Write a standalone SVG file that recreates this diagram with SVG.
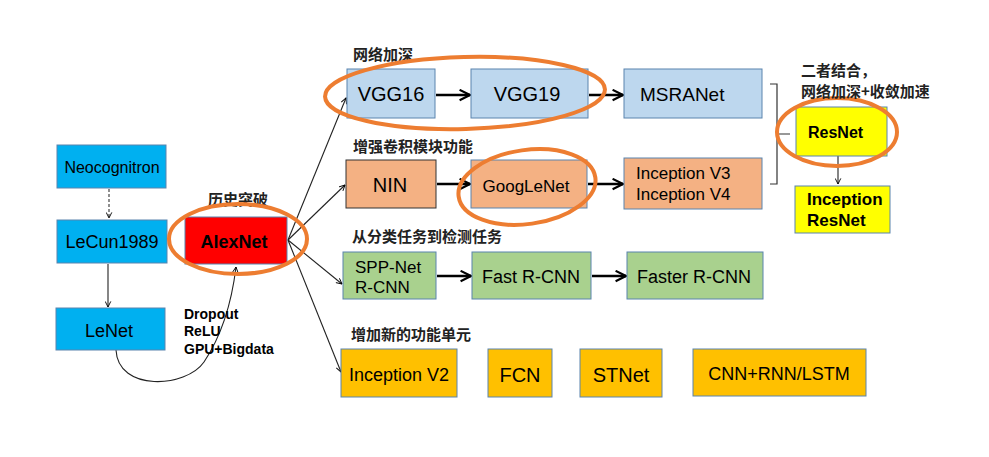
<svg xmlns="http://www.w3.org/2000/svg" width="989" height="457" viewBox="0 0 989 457">
<defs>
<marker id="vh" viewBox="0 0 10 10" refX="9" refY="5" markerWidth="7" markerHeight="7" orient="auto" markerUnits="userSpaceOnUse">
<path d="M1,1 L9,5 L1,9" fill="none" stroke="#000" stroke-width="1.3"/>
</marker>
<marker id="vb" viewBox="0 0 10 10" refX="9" refY="5" markerWidth="13" markerHeight="13" orient="auto" markerUnits="userSpaceOnUse">
<path d="M1,1 L9,5 L1,9" fill="none" stroke="#000" stroke-width="1.6"/>
</marker>
<style>
.b{stroke:#5A84AE;stroke-width:1}
.t{font-family:"Liberation Sans",Arial,sans-serif;fill:#000}
.bd{font-weight:bold}
.cn{font-family:"Noto Sans CJK SC","Liberation Sans",sans-serif;font-size:15px;font-weight:bold;fill:#222}
.thin{fill:none;stroke:#222;stroke-width:1.1;marker-end:url(#vh)}
.thick{fill:none;stroke:#000;stroke-width:2.5;marker-end:url(#vb)}
.loop{fill:none;stroke:#ED7D31;stroke-width:4}
</style>
</defs>
<rect width="989" height="457" fill="#fff"/>

<g id="connectors">
<path d="M109,189 V218" fill="none" stroke="#333" stroke-width="1.1" stroke-dasharray="3,2" marker-end="url(#vh)"/>
<path class="thin" d="M108,264 V307"/>
<path class="thin" d="M116,350 C118,392 186,388 204,362 C222,335 232,300 236,267"/>
<path class="thin" d="M288,240 L346,98"/>
<path class="thin" d="M288,240 L345,185"/>
<path class="thin" d="M288,240 L342,284"/>
<path class="thin" d="M288,240 L341,372"/>
<path class="thick" d="M436,95 H470"/>
<path class="thick" d="M589,95 H623"/>
<path class="thick" d="M437,184 H470"/>
<path class="thick" d="M588,184 H623"/>
<path class="thick" d="M437,276 H471"/>
<path class="thick" d="M592,276 H626"/>
<path class="thin" d="M838,156 V184"/>
<path d="M770,84 H777 V184 H770 M777,134 H790" fill="none" stroke="#333" stroke-width="1.2"/>
</g>

<g id="neocognitron"><rect class="b" x="57" y="145" width="109" height="43" fill="#00B0F0"/><text class="t" x="112" y="173" font-size="16" text-anchor="middle">Neocognitron</text></g>
<g id="lecun1989"><rect class="b" x="57" y="220" width="110" height="43" fill="#00B0F0"/><text class="t" x="112" y="248" font-size="18" text-anchor="middle">LeCun1989</text></g>
<g id="lenet"><rect class="b" x="56" y="308" width="109" height="42" fill="#00B0F0"/><text class="t" x="109" y="337" font-size="18" text-anchor="middle">LeNet</text></g>
<g id="alexnet"><rect class="b" x="185" y="217" width="102" height="47" fill="#FF0000"/><text class="t bd" x="234" y="248" font-size="18" text-anchor="middle">AlexNet</text>
<text class="cn" x="208" y="205">历史突破</text>
<ellipse class="loop" cx="238" cy="239" rx="69" ry="35"/></g>
<g id="tricks"><text class="t bd" x="184" y="319" font-size="14">Dropout</text><text class="t bd" x="184" y="336" font-size="14">ReLU</text><text class="t bd" x="184" y="354" font-size="14">GPU+Bigdata</text></g>

<g id="vgg16"><rect class="b" x="347" y="69" width="88" height="49" fill="#BDD7EE"/><text class="t" x="391" y="101" font-size="20" text-anchor="middle">VGG16</text></g>
<g id="vgg19"><rect class="b" x="471" y="69" width="117" height="49" fill="#BDD7EE"/><text class="t" x="527" y="101" font-size="20" text-anchor="middle">VGG19</text></g>
<g id="msranet"><rect class="b" x="624" y="69" width="138" height="49" fill="#BDD7EE"/><text class="t" x="640" y="101" font-size="19">MSRANet</text></g>
<g id="deeper"><text class="cn" x="353" y="60">网络加深</text><ellipse class="loop" cx="465" cy="93" rx="140" ry="36" transform="rotate(-1.5 465 93)"/></g>

<g id="nin"><rect x="346" y="160" width="90" height="48" fill="#F4B183" stroke="#333" stroke-width="1"/><text class="t" x="390" y="192" font-size="20" text-anchor="middle">NIN</text></g>
<g id="googlenet"><rect class="b" x="471" y="160" width="116" height="48" fill="#F4B183"/><text class="t" x="526" y="192" font-size="17" text-anchor="middle">GoogLeNet</text>
<ellipse class="loop" cx="527" cy="187" rx="69" ry="37" transform="rotate(-8 527 187)"/></g>
<g id="inceptionv3v4"><rect class="b" x="624" y="158" width="138" height="51" fill="#F4B183"/><text class="t" x="636" y="179" font-size="17">Inception V3</text><text class="t" x="636" y="200" font-size="17">Inception V4</text></g>
<text class="cn" x="353" y="152">增强卷积模块功能</text>

<g id="resnet"><rect class="b" x="796" y="107" width="91" height="49" fill="#FFFF00"/><text class="t bd" x="808" y="138" font-size="16">ResNet</text>
<ellipse class="loop" cx="837" cy="132" rx="60" ry="34"/></g>
<g id="inceptionresnet"><rect class="b" x="795" y="186" width="95" height="47" fill="#FFFF00"/><text class="t bd" x="807" y="205" font-size="17">Inception</text><text class="t bd" x="807" y="226" font-size="17">ResNet</text></g>
<text class="cn" x="801" y="76">二者结合，</text>
<text class="cn" x="801" y="97">网络加深+收敛加速</text>

<text class="cn" x="352" y="242">从分类任务到检测任务</text>
<g id="sppnet"><rect class="b" x="343" y="252" width="93" height="47" fill="#A9D18E"/><text class="t" x="355" y="273" font-size="17">SPP-Net</text><text class="t" x="355" y="293" font-size="17">R-CNN</text></g>
<g id="fastrcnn"><rect class="b" x="472" y="252" width="119" height="47" fill="#A9D18E"/><text class="t" x="531" y="283" font-size="18" text-anchor="middle">Fast R-CNN</text></g>
<g id="fasterrcnn"><rect class="b" x="627" y="252" width="136" height="47" fill="#A9D18E"/><text class="t" x="694" y="283" font-size="18" text-anchor="middle">Faster R-CNN</text></g>

<text class="cn" x="351" y="340">增加新的功能单元</text>
<g id="inceptionv2"><rect class="b" x="341" y="349" width="116" height="48" fill="#FFC000"/><text class="t" x="399" y="381" font-size="18" text-anchor="middle">Inception V2</text></g>
<g id="fcn"><rect class="b" x="488" y="349" width="64" height="48" fill="#FFC000"/><text class="t" x="520" y="382" font-size="20" text-anchor="middle">FCN</text></g>
<g id="stnet"><rect class="b" x="580" y="349" width="82" height="48" fill="#FFC000"/><text class="t" x="621" y="382" font-size="20" text-anchor="middle">STNet</text></g>
<g id="cnnrnn"><rect class="b" x="693" y="349" width="173" height="47" fill="#FFC000"/><text class="t" x="779" y="380" font-size="18" text-anchor="middle">CNN+RNN/LSTM</text></g>
</svg>
